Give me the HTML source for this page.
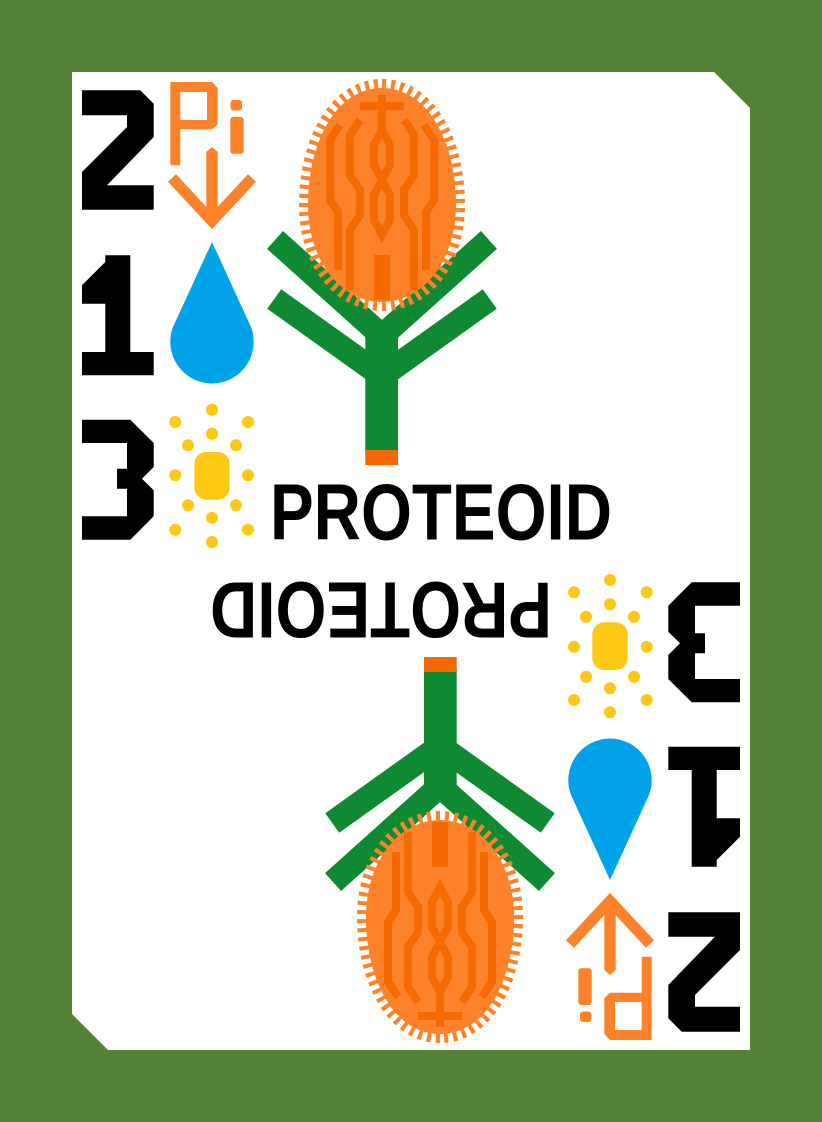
<!DOCTYPE html>
<html><head><meta charset="utf-8"><style>
html,body{margin:0;padding:0;background:#548235;}
svg{display:block}
</style></head><body>
<svg width="822" height="1122" viewBox="0 0 822 1122">
<rect x="0" y="0" width="822" height="1122" fill="#548235"/>
<polygon points="72,72 714,72 750,108 750,1050 108,1050 72,1014" fill="#fff"/>
<defs>
<g id="half">
  <polygon fill="#000" points="82,90.3 140.3,90.3 153.7,103.7 153.7,137 107,185.3 153.7,185.3 153.7,209.7 82,209.7 82,172 127,127 127,115.3 82,115.3"/>
  <polygon fill="#000" points="105.3,255.3 130.3,255.3 130.3,352 153.7,352 153.7,375.3 82,375.3 82,352 105.3,352 105.3,303.7 82,303.7 82,285.3 105.3,262"/>
  <polygon fill="#000" points="82,419.7 130.3,419.7 153.7,443 153.7,467 142,478.7 153.7,490.3 153.7,516.3 130.3,539.7 82,539.7 82,516.3 127,516.3 127,488.7 117,488.7 117,468.7 127,468.7 127,443 82,443"/>
  <g fill="#fe8229">
    <path fill-rule="evenodd" d="M170.3,82 L212,82 L217.7,88 L217.7,124 L212,129.3 L180.3,129.3 L180.3,165.3 L170.3,165.3 Z M180.3,92 L207,92 L207,120 L180.3,120 Z"/>
    <rect x="230.5" y="100" width="11.5" height="10.5" rx="3"/>
    <rect x="230.3" y="117" width="13.4" height="36.7" rx="3"/>
    <polygon points="206.3,152 212,147 217.7,152 217.7,215 206.3,215"/>
    <polyline points="172,178 212,221 252,178" fill="none" stroke="#fe8229" stroke-width="11"/>
  </g>
  <path fill="#00a3e8" d="M212,242 L173,327 A41.7,41.7 0 1,0 251,327 Z"/>
  <g fill="#fec914">
    <rect x="194.3" y="452" width="35.4" height="47.7" rx="12"/>
    <circle cx="212" cy="433.7" r="6"/><circle cx="188" cy="445.3" r="6"/><circle cx="236" cy="445.3" r="6"/>
    <circle cx="175.3" cy="475.3" r="6"/><circle cx="248" cy="475.3" r="6"/>
    <circle cx="188" cy="505.3" r="6"/><circle cx="236" cy="505.3" r="6"/><circle cx="212" cy="517.7" r="6"/>
    <circle cx="212" cy="409.7" r="6"/><circle cx="175.3" cy="422" r="6"/><circle cx="248" cy="422" r="6"/>
    <circle cx="175.3" cy="529.7" r="6"/><circle cx="248" cy="529.7" r="6"/><circle cx="212" cy="542" r="6"/>
  </g>
  <g stroke="#0f8a33" fill="none" stroke-width="24" stroke-linecap="square">
    <polyline points="284,248 382,336 480,248"/>
    <polyline points="284,306 382,376 480,306"/>
  </g>
  <rect x="365.3" y="330" width="32.7" height="125" fill="#0f8a33"/>
  <rect x="365.3" y="450" width="32.7" height="15" fill="#f56a00"/>
  <g>
    <path d="M382,84 C430,84 460,140 460,205 C460,265 425,306 382,306 C339,306 304,265 304,205 C304,140 334,84 382,84 Z" fill="none" stroke="#fe8229" stroke-width="10" stroke-dasharray="4 5"/>
    <path d="M382,88 C428,88 456,142 456,205 C456,262 422,302 382,302 C342,302 308,262 308,205 C308,142 336,88 382,88 Z" fill="#fe8229"/>
    <g fill="none" stroke="#f56a00" stroke-width="8">
      <polyline points="382,95 382,130 374,145 374,165 382,180 390,165 390,145 382,130"/>
      <polyline points="382,180 374,195 374,220 382,235 390,220 390,195 382,180"/>
      <polyline points="378,255 378,300"/>
      <polyline points="386,255 386,300"/>
      <polyline points="360,120 350,135 350,175 360,190 360,215 350,230 350,290"/>
      <polyline points="404,120 414,135 414,175 404,190 404,215 414,230 414,290"/>
      <polyline points="340,125 330,140 330,200 338,212 338,270"/>
      <polyline points="424,125 434,140 434,200 426,212 426,270"/>
      <polyline points="360,106 404,106"/>
    </g>
  </g>
</g>
</defs>
<use href="#half"/>
<use href="#half" transform="rotate(180 411 561)"/>
<text x="270" y="539.7" font-family="Liberation Sans, sans-serif" font-weight="bold" font-size="80" textLength="342" lengthAdjust="spacingAndGlyphs" fill="#000">PROTEOID</text>
<text x="270" y="539.7" transform="rotate(180 411 561)" font-family="Liberation Sans, sans-serif" font-weight="bold" font-size="80" textLength="342" lengthAdjust="spacingAndGlyphs" fill="#000">PROTEOID</text>
</svg>
</body></html>
